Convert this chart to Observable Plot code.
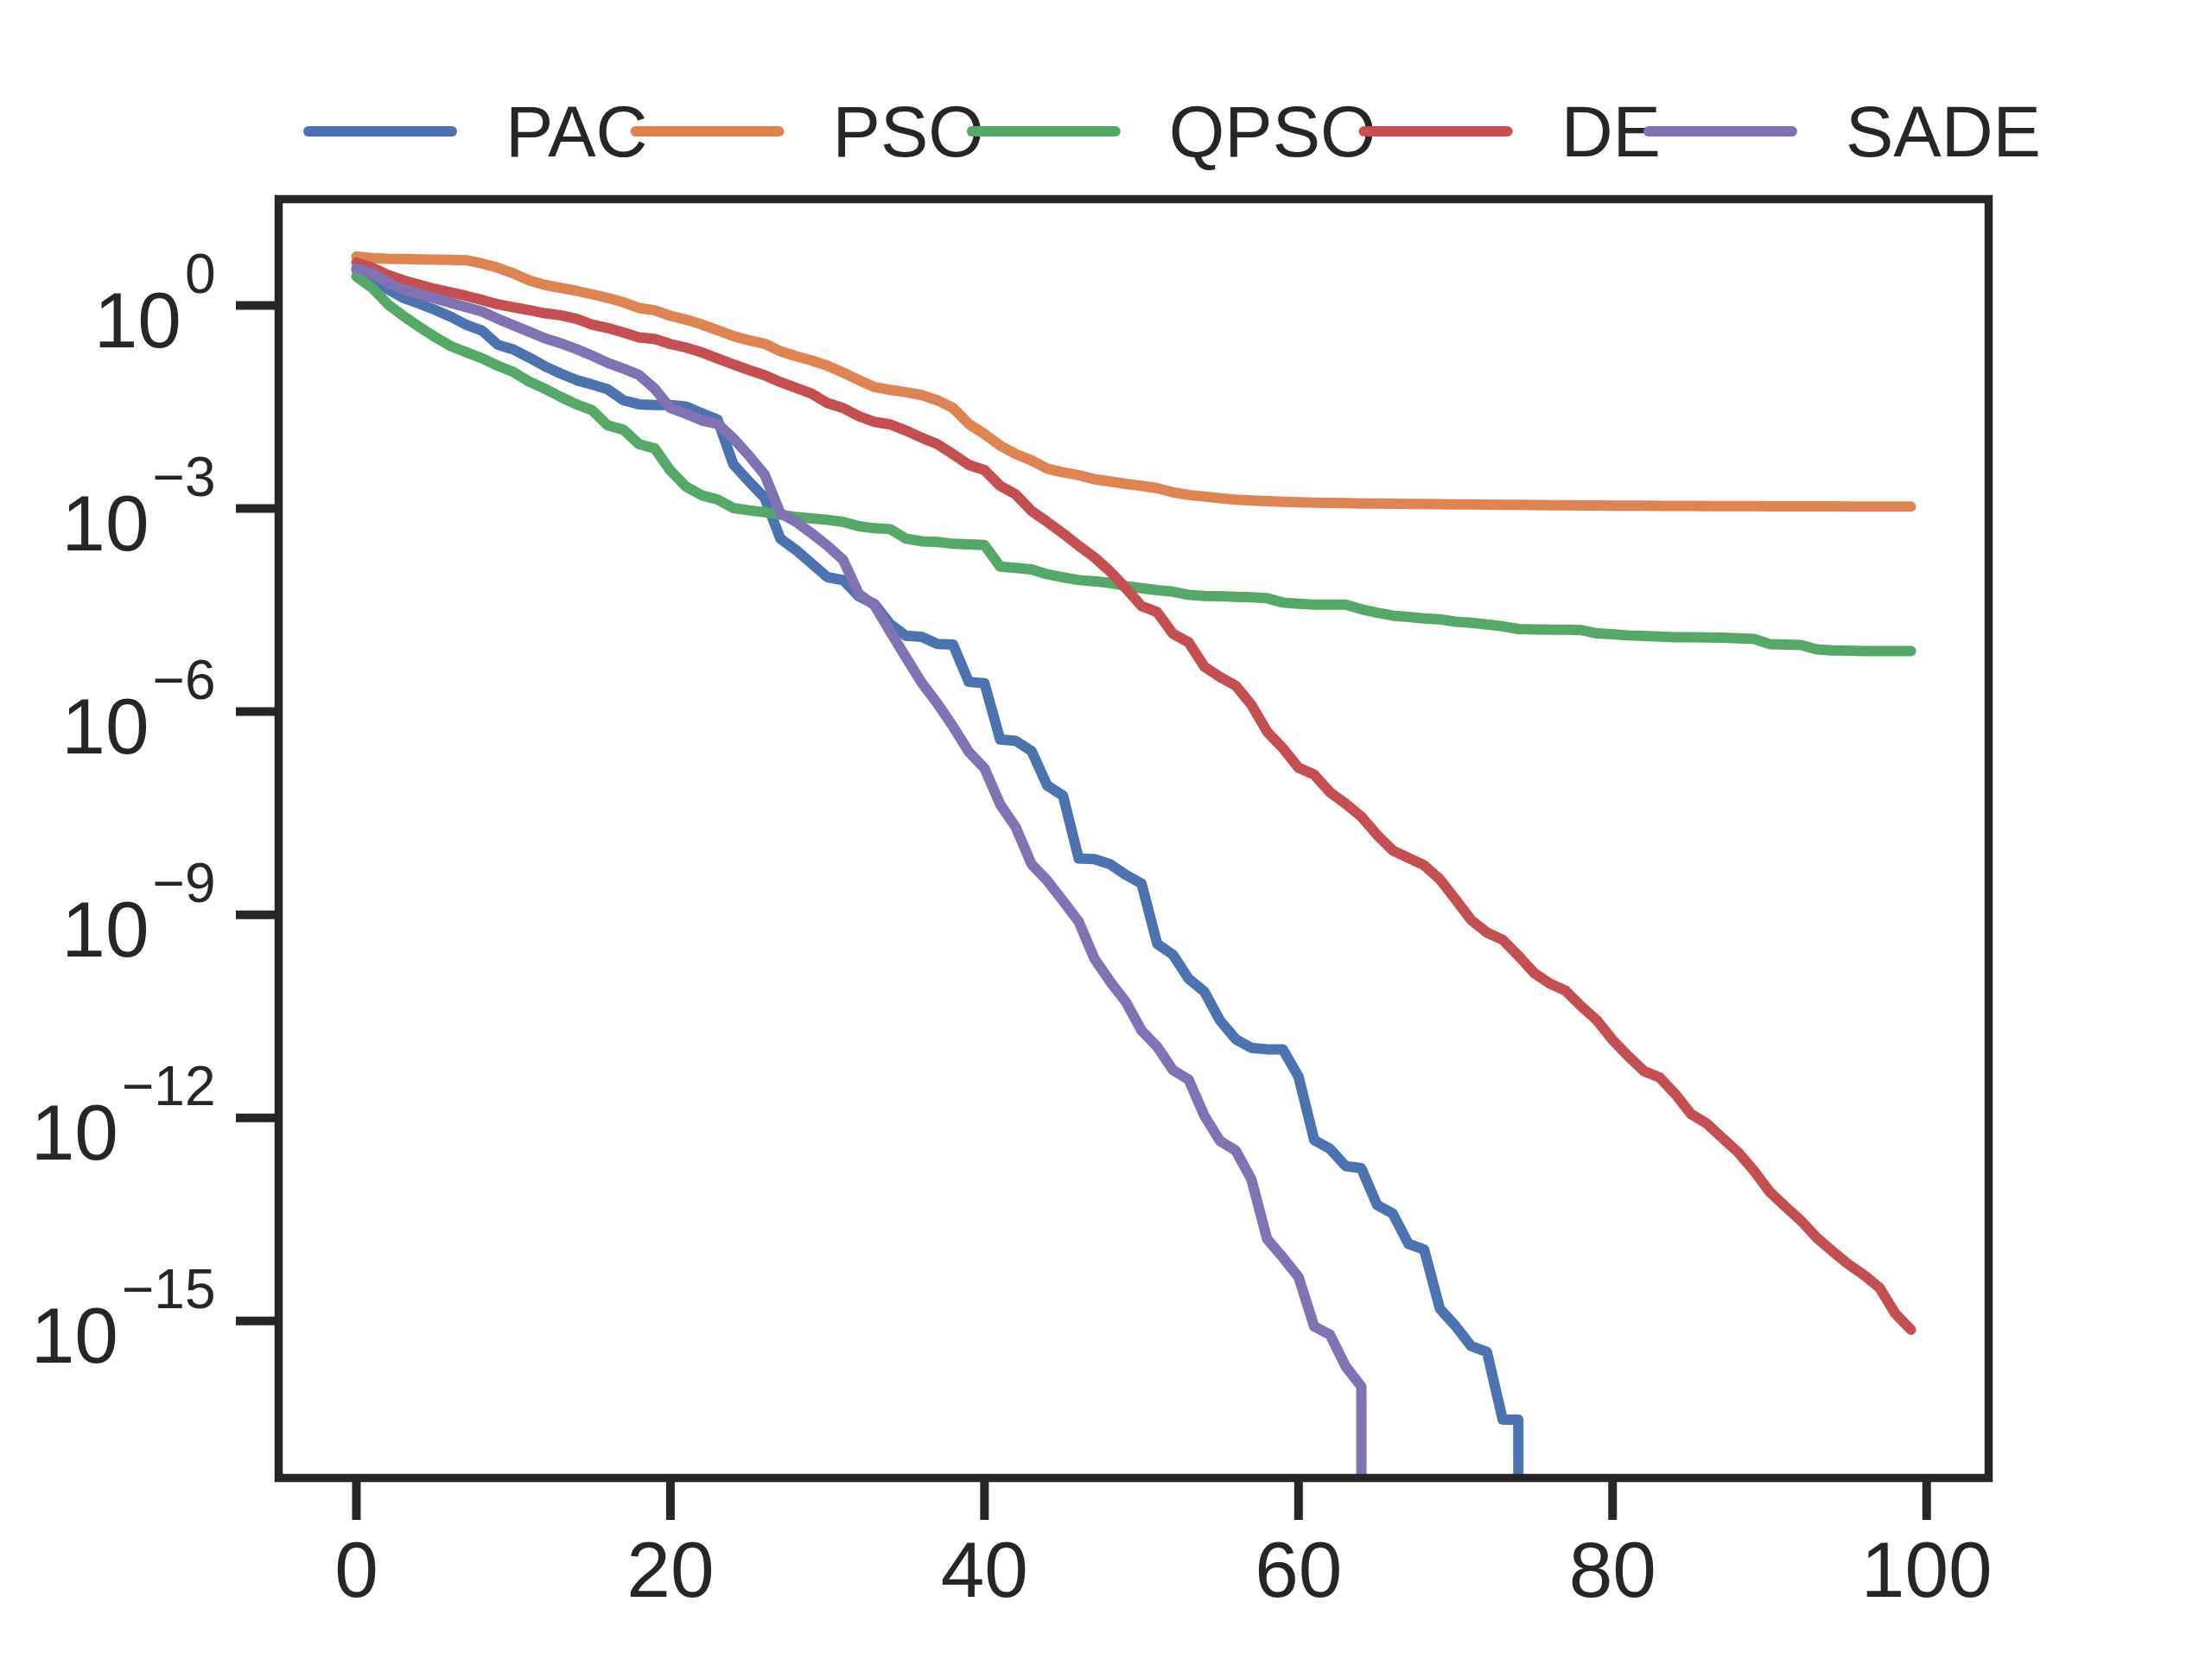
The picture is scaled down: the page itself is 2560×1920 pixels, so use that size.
<!DOCTYPE html>
<html>
<head>
<meta charset="utf-8">
<script src="https://cdn.jsdelivr.net/npm/d3@7"></script>
<script src="https://cdn.jsdelivr.net/npm/@observablehq/plot@0.6"></script>
<style>
  html, body { margin: 0; padding: 0; background: #ffffff; }
  #wrap { width: 2560px; height: 1920px; position: relative; background: #ffffff; }
  #legend, #chart { display: block; }
  svg { display: block; }
</style>
</head>
<body>
<div id="wrap">
  <div id="legend"></div>
  <div id="chart"></div>
</div>
<script>
// ---- data: log10 of the best fitness per iteration (null = reached exactly 0) ----
const SERIES_NAMES = ["PAC", "PSO", "QPSO", "DE", "SADE"];
const SERIES_COLORS = ["#4C72B0", "#DD8452", "#55A868", "#C44E52", "#8172B3"];

const PAC_LOG10 = [
  0.528, 0.413, 0.24, 0.11, 0.026, -0.064, -0.166, -0.285, -0.371, -0.579,
  -0.651, -0.77, -0.898, -1.004, -1.102, -1.166, -1.238, -1.40, -1.46, -1.472,
  -1.472, -1.494, -1.592, -1.685, -2.345, -2.60, -2.84, -3.444, -3.614, -3.814,
  -4.014, -4.057, -4.295, -4.411, -4.709, -4.88, -4.895, -5.0, -5.01, -5.56,
  -5.581, -6.411, -6.432, -6.582, -7.092, -7.241, -8.17, -8.178, -8.255, -8.412,
  -8.54, -9.43, -9.59, -9.945, -10.137, -10.562, -10.839, -10.967, -10.988, -10.988,
  -11.392, -12.329, -12.457, -12.712, -12.745, -13.286, -13.414, -13.861, -13.946, -14.819,
  -15.075, -15.373, -15.458, -16.458, -16.458, null, null, null, null, null,
  null, null, null, null, null, null, null, null, null, null,
  null, null, null, null, null, null, null, null, null, null
];

const PSO_LOG10 = [
  0.72, 0.70, 0.69, 0.686, 0.68, 0.676, 0.674, 0.668, 0.62, 0.558,
  0.473, 0.371, 0.303, 0.26, 0.217, 0.166, 0.111, 0.047, -0.038, -0.072,
  -0.153, -0.209, -0.281, -0.366, -0.451, -0.515, -0.565, -0.677, -0.749, -0.813,
  -0.89, -0.992, -1.103, -1.205, -1.248, -1.281, -1.324, -1.40, -1.515, -1.75,
  -1.90, -2.07, -2.196, -2.29, -2.41, -2.464, -2.507, -2.567, -2.60, -2.636,
  -2.665, -2.70, -2.76, -2.80, -2.822, -2.848, -2.869, -2.882, -2.89, -2.899,
  -2.907, -2.912, -2.916, -2.92, -2.925, -2.927, -2.929, -2.931, -2.933, -2.936,
  -2.938, -2.94, -2.942, -2.944, -2.946, -2.948, -2.95, -2.952, -2.955, -2.956,
  -2.957, -2.958, -2.959, -2.96, -2.961, -2.962, -2.963, -2.964, -2.965, -2.965,
  -2.966, -2.967, -2.968, -2.968, -2.969, -2.97, -2.97, -2.971, -2.971, -2.972
];

const QPSO_LOG10 = [
  0.43, 0.26, 0.02, -0.157, -0.315, -0.464, -0.60, -0.69, -0.779, -0.89,
  -0.983, -1.124, -1.23, -1.35, -1.46, -1.545, -1.771, -1.835, -2.048, -2.112,
  -2.44, -2.678, -2.806, -2.865, -2.993, -3.027, -3.055, -3.091, -3.125, -3.146,
  -3.167, -3.197, -3.261, -3.291, -3.304, -3.444, -3.483, -3.495, -3.521, -3.529,
  -3.538, -3.857, -3.878, -3.90, -3.972, -4.015, -4.057, -4.074, -4.10, -4.146,
  -4.176, -4.206, -4.228, -4.274, -4.291, -4.295, -4.304, -4.312, -4.325, -4.389,
  -4.406, -4.419, -4.419, -4.419, -4.487, -4.538, -4.581, -4.602, -4.623, -4.636,
  -4.671, -4.688, -4.713, -4.739, -4.78, -4.785, -4.79, -4.79, -4.795, -4.845,
  -4.857, -4.874, -4.883, -4.891, -4.90, -4.90, -4.904, -4.908, -4.917, -4.925,
  -5.002, -5.011, -5.015, -5.079, -5.096, -5.10, -5.104, -5.104, -5.104, -5.104
];

const DE_LOG10 = [
  0.634, 0.558, 0.451, 0.37, 0.306, 0.243, 0.192, 0.141, 0.081, 0.017,
  -0.026, -0.068, -0.115, -0.145, -0.196, -0.281, -0.332, -0.40, -0.473, -0.494,
  -0.571, -0.622, -0.694, -0.784, -0.869, -0.954, -1.03, -1.132, -1.218, -1.303,
  -1.443, -1.516, -1.635, -1.72, -1.758, -1.848, -1.954, -2.048, -2.197, -2.354,
  -2.431, -2.665, -2.793, -3.035, -3.197, -3.367, -3.55, -3.721, -3.929, -4.176,
  -4.44, -4.53, -4.85, -4.976, -5.334, -5.487, -5.615, -5.90, -6.296, -6.539,
  -6.828, -6.931, -7.19, -7.36, -7.55, -7.82, -8.05, -8.16, -8.27, -8.476,
  -8.774, -9.08, -9.263, -9.37, -9.604, -9.86, -10.017, -10.12, -10.35, -10.56,
  -10.85, -11.09, -11.31, -11.405, -11.65, -11.945, -12.086, -12.30, -12.51, -12.78,
  -13.09, -13.31, -13.52, -13.77, -13.97, -14.16, -14.32, -14.51, -14.89, -15.13
];

const SADE_LOG10 = [
  0.549, 0.477, 0.336, 0.234, 0.174, 0.106, 0.038, -0.026, -0.089, -0.196,
  -0.294, -0.387, -0.485, -0.557, -0.643, -0.741, -0.847, -0.932, -1.026, -1.23,
  -1.515, -1.60, -1.698, -1.749, -1.962, -2.218, -2.50, -3.069, -3.197, -3.367,
  -3.55, -3.759, -4.262, -4.43, -4.82, -5.198, -5.572, -5.879, -6.22, -6.594,
  -6.837, -7.369, -7.71, -8.255, -8.497, -8.795, -9.102, -9.647, -9.987, -10.285,
  -10.711, -10.95, -11.294, -11.434, -11.967, -12.341, -12.485, -12.91, -13.79, -14.061,
  -14.351, -15.083, -15.202, -15.67, -15.968, null, null, null, null, null,
  null, null, null, null, null, null, null, null, null, null,
  null, null, null, null, null, null, null, null, null, null,
  null, null, null, null, null, null, null, null, null, null
];

const X_TICKS = [0, 20, 40, 60, 80, 100];
const Y_TICK_EXPONENTS = [0, -3, -6, -9, -12, -15];

// ---- build table ----
const SERIES_LOG10 = [PAC_LOG10, PSO_LOG10, QPSO_LOG10, DE_LOG10, SADE_LOG10];
const toValue = e => (e === null ? 0 : Math.pow(10, e));
const series = SERIES_NAMES.map((name, k) => ({
  name,
  color: SERIES_COLORS[k],
  rows: SERIES_LOG10[k].map((e, i) => ({ name, iteration: i, value: toValue(e) }))
}));

const INK = "#262626";
const FONT = "'Liberation Sans', Arial, 'DejaVu Sans', sans-serif";

// ---- legend (above the plot) ----
const legendSvg = d3.select("#legend").append("svg")
  .attr("width", 2560).attr("height", 200);
let lx = 357;
series.forEach(s => {
  legendSvg.append("line")
    .attr("x1", lx).attr("x2", lx + 166)
    .attr("y1", 152).attr("y2", 152)
    .attr("stroke", s.color).attr("stroke-width", 12)
    .attr("stroke-linecap", "round");
  const t = legendSvg.append("text")
    .attr("x", lx + 228).attr("y", 152).attr("dy", "0.355em")
    .attr("font-family", FONT).attr("font-size", 83)
    .attr("fill", INK)
    .text(s.name);
  lx += 228 + t.node().getComputedTextLength() - 14;
});

// ---- chart ----
const lineMarks = series.map(s =>
  Plot.line(s.rows, {
    x: "iteration",
    y: d => (d.value > 0 ? d.value : 1e-300), // non-positive values clipped like matplotlib
    stroke: s.color,
    strokeWidth: 12,
    strokeLinecap: "round",
    strokeLinejoin: "round",
    clip: true
  })
);

const chart = Plot.plot({
  width: 2560,
  height: 1720,
  marginLeft: 322,
  marginRight: 259,
  marginTop: 30,
  marginBottom: 210,
  style: { fontFamily: FONT, color: INK, background: "#ffffff", overflow: "visible" },
  x: { domain: [-4.95, 103.95], axis: null },
  y: { type: "log", domain: [Math.pow(10, -17.32), Math.pow(10, 1.57)], axis: null },
  marks: [
    ...lineMarks,
    Plot.frame({ stroke: INK, strokeWidth: 9.5 }),
    Plot.axisX({
      ticks: X_TICKS,
      tickSize: 49,
      tickPadding: 24,
      strokeWidth: 10,
      fontSize: 91,
      label: null,
      tickFormat: d => String(d)
    }),
    Plot.axisY({
      ticks: Y_TICK_EXPONENTS.map(e => Math.pow(10, e)),
      tickSize: 49,
      tickPadding: 24,
      strokeWidth: 10,
      fontSize: 91,
      label: null,
      tickFormat: d => String(Math.round(Math.log10(d)))
    })
  ]
});
document.getElementById("chart").appendChild(chart);

// render y tick labels as 10 with a raised exponent (like mathtext)
d3.select(chart).selectAll('g[aria-label="y-axis tick label"] text').each(function () {
  const exp = this.textContent.replace("-", "\u2212");
  const sel = d3.select(this);
  sel.attr("y", null).text(null);
  sel.append("tspan").attr("dy", 48).text("10");
  sel.append("tspan").attr("dy", -63).attr("dx", 4).attr("font-size", 64).text(exp);
});
</script>
</body>
</html>
